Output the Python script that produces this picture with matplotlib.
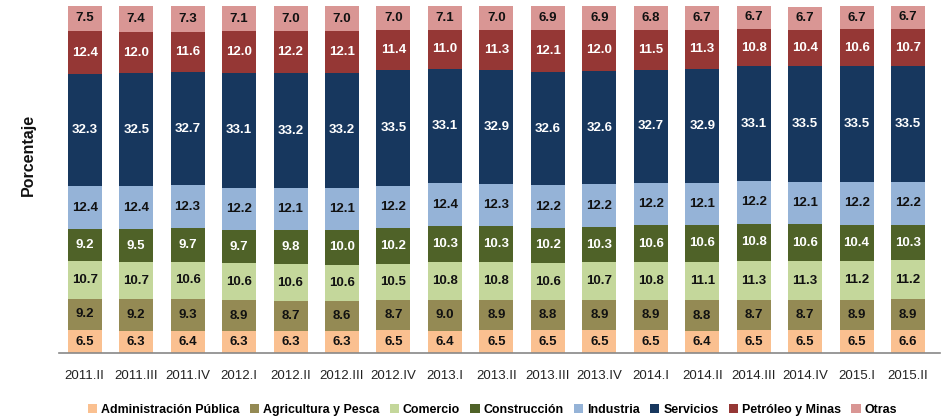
import matplotlib
matplotlib.use("Agg")
import matplotlib.pyplot as plt
from matplotlib.patches import Patch

plt.rcParams['font.family'] = ['Liberation Sans Narrow', 'Liberation Sans', 'DejaVu Sans']

categories = ["2011.II", "2011.III", "2011.IV", "2012.I", "2012.II", "2012.III", "2012.IV",
              "2013.I", "2013.II", "2013.III", "2013.IV", "2014.I", "2014.II", "2014.III",
              "2014.IV", "2015.I", "2015.II"]

admin = [6.5, 6.3, 6.4, 6.3, 6.3, 6.3, 6.5, 6.4, 6.5, 6.5, 6.5, 6.5, 6.4, 6.5, 6.5, 6.5, 6.6]
agri = [9.2, 9.2, 9.3, 8.9, 8.7, 8.6, 8.7, 9.0, 8.9, 8.8, 8.9, 8.9, 8.8, 8.7, 8.7, 8.9, 8.9]
comercio = [10.7, 10.7, 10.6, 10.6, 10.6, 10.6, 10.5, 10.8, 10.8, 10.6, 10.7, 10.8, 11.1, 11.3, 11.3, 11.2, 11.2]
construccion = [9.2, 9.5, 9.7, 9.7, 9.8, 10.0, 10.2, 10.3, 10.3, 10.2, 10.3, 10.6, 10.6, 10.8, 10.6, 10.4, 10.3]
industria = [12.4, 12.4, 12.3, 12.2, 12.1, 12.1, 12.2, 12.4, 12.3, 12.2, 12.2, 12.2, 12.1, 12.2, 12.1, 12.2, 12.2]
servicios = [32.3, 32.5, 32.7, 33.1, 33.2, 33.2, 33.5, 33.1, 32.9, 32.6, 32.6, 32.7, 32.9, 33.1, 33.5, 33.5, 33.5]
petroleo = [12.4, 12.0, 11.6, 12.0, 12.2, 12.1, 11.4, 11.0, 11.3, 12.1, 12.0, 11.5, 11.3, 10.8, 10.4, 10.6, 10.7]
otras = [7.5, 7.4, 7.3, 7.1, 7.0, 7.0, 7.0, 7.1, 7.0, 6.9, 6.9, 6.8, 6.7, 6.7, 6.7, 6.7, 6.7]

series_names = ["Administración Pública", "Agricultura y Pesca", "Comercio", "Construcción",
                "Industria", "Servicios", "Petróleo y Minas", "Otras"]
series = [admin, agri, comercio, construccion, industria, servicios, petroleo, otras]
colors = ["#FAC090", "#948A54", "#C4D79B", "#4F6228", "#95B3D7", "#17375E", "#953735", "#D99694"]
text_colors = ["#111111", "#111111", "#111111", "white", "#111111", "white", "white", "#111111"]

fig = plt.figure(figsize=(9.45, 4.18), dpi=100)
ax = fig.add_axes([0.0624, 0.1555, 0.9323, 0.83])

x = list(range(len(categories)))
bottom = [0.0] * len(categories)
for vals, col, tc in zip(series, colors, text_colors):
    ax.bar(x, vals, width=0.66, bottom=bottom, color=col, edgecolor='none')
    for xi, b, v in zip(x, bottom, vals):
        ax.text(xi, b + v / 2, f"{v:.1f}", ha='center', va='center', color=tc,
                fontsize=9.5, fontweight='bold')
    bottom = [b + v for b, v in zip(bottom, vals)]

ax.set_xlim(-0.5, 16.62)
ax.set_ylim(0, 100)
ax.set_yticks([])
ax.set_xticks(x)
ax.set_xticklabels(categories, fontsize=9.5, color='#222222')
ax.tick_params(axis='x', length=0, pad=12)
for s in ['top', 'right', 'left']:
    ax.spines[s].set_visible(False)
ax.spines['bottom'].set_color('#888888')
ax.spines['bottom'].set_linewidth(1.2)

fig.text(0.03, 0.63, "Porcentaje", rotation=90, ha='center', va='center',
         fontsize=11.5, fontweight='bold', color='#111111')

handles = [Patch(facecolor=c, edgecolor='none', label=n) for c, n in zip(colors, series_names)]
fig.legend(handles=handles, loc='center', bbox_to_anchor=(0.521, 0.02), ncol=8,
           frameon=False, handlelength=0.75, handleheight=0.75,
           handletextpad=0.3, columnspacing=0.85,
           prop={'weight': 'bold', 'size': 8.9})

fig.savefig("out.png", dpi=100)
